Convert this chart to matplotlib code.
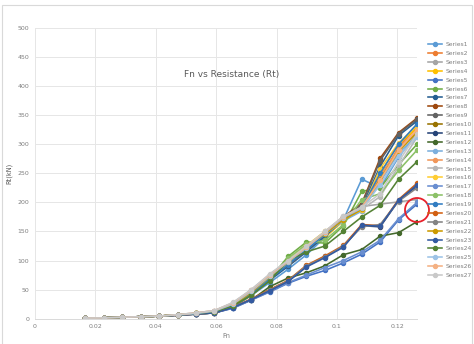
import matplotlib
matplotlib.use("Agg")
import matplotlib.pyplot as plt
from matplotlib.patches import Ellipse, Rectangle

fn = [0.0167, 0.0228, 0.0289, 0.0350, 0.0411, 0.0472, 0.0533, 0.0594, 0.0655, 0.0716,
      0.0777, 0.0838, 0.0899, 0.0960, 0.1021, 0.1082, 0.1143, 0.1204, 0.1265]

series_names = [f"Series{i}" for i in range(1, 28)]

s1 = [1, 1.5, 2.5, 3.5, 4.5, 6.5, 8.5, 11, 22, 40, 62, 85, 110, 140, 170, 240, 225, 278, 318]
s2 = [1, 1.5, 2.5, 3.5, 4.5, 6.5, 9, 12, 24, 46, 70, 95, 118, 145, 172, 190, 240, 295, 330]
s3 = [1, 1.5, 2.5, 3.5, 4.5, 6.5, 9, 12, 26, 48, 75, 96, 120, 148, 175, 193, 197, 201, 205]
s4 = [1, 1.5, 2.5, 3.5, 4.5, 6.5, 9, 12, 25, 47, 72, 100, 128, 140, 168, 188, 250, 300, 328]
s5 = [1, 1.5, 2.5, 3.5, 4.5, 6.0, 8, 10, 18, 32, 46, 61, 73, 83, 96, 111, 132, 170, 197]
s6 = [1, 1.5, 2.5, 3.5, 4.5, 6.5, 9, 12, 22, 42, 68, 107, 132, 130, 160, 219, 225, 265, 300]
s7 = [1, 1.5, 2.5, 3.5, 4.5, 6.5, 8.5, 11, 20, 40, 66, 90, 115, 142, 170, 192, 262, 315, 340]
s8 = [1, 1.5, 2.5, 3.5, 4.5, 6.5, 8.5, 11, 22, 45, 75, 92, 118, 148, 175, 198, 276, 320, 345]
s9 = [1, 1.5, 2.5, 3.5, 4.5, 6.5, 8.5, 11, 21, 44, 73, 92, 117, 146, 174, 196, 272, 318, 343]
s10 = [1, 1.5, 2.5, 3.5, 4.5, 6.5, 9, 12, 23, 45, 70, 96, 124, 145, 172, 186, 245, 290, 322]
s11 = [1, 1.5, 2.5, 3.5, 4.5, 6.0, 8, 10, 19, 33, 50, 64, 90, 107, 124, 160, 158, 203, 228]
s12 = [1, 1.5, 2.5, 3.5, 4.5, 6.0, 8, 10, 20, 32, 55, 70, 79, 91, 110, 119, 142, 148, 167]
s13 = [1, 1.5, 2.5, 3.5, 4.5, 6.5, 9, 12, 24, 45, 70, 95, 120, 145, 168, 185, 235, 285, 315]
s14 = [1, 1.5, 2.5, 3.5, 4.5, 6.5, 9, 13, 26, 48, 74, 98, 122, 148, 173, 190, 245, 292, 325]
s15 = [1, 1.5, 2.5, 3.5, 4.5, 7.0, 10, 14, 27, 50, 76, 100, 124, 150, 176, 188, 210, 262, 312]
s16 = [1, 1.5, 2.5, 3.5, 4.5, 6.5, 9, 12, 25, 48, 73, 99, 126, 150, 172, 187, 258, 302, 332]
s17 = [1, 1.5, 2.5, 3.5, 4.5, 6.0, 8, 10, 18, 32, 47, 62, 75, 88, 100, 115, 135, 172, 200]
s18 = [1, 1.5, 2.5, 3.5, 4.5, 6.5, 9, 12, 22, 40, 66, 104, 128, 135, 162, 205, 215, 255, 290]
s19 = [1, 1.5, 2.5, 3.5, 4.5, 6.5, 8.5, 11, 21, 42, 68, 93, 118, 146, 172, 190, 250, 300, 335]
s20 = [1, 1.5, 2.5, 3.5, 4.5, 6.0, 8, 10, 20, 34, 50, 66, 92, 108, 126, 162, 160, 205, 233]
s21 = [1, 1.5, 2.5, 3.5, 4.5, 6.0, 8, 10, 20, 33, 49, 65, 91, 106, 125, 158, 162, 202, 225]
s22 = [1, 1.5, 2.5, 3.5, 4.5, 6.5, 9, 12, 23, 45, 72, 97, 125, 146, 170, 188, 240, 288, 320]
s23 = [1, 1.5, 2.5, 3.5, 4.5, 6.0, 8, 10, 19, 33, 48, 64, 89, 105, 123, 161, 159, 204, 230]
s24 = [1, 1.5, 2.5, 3.5, 4.5, 6.5, 9, 12, 22, 40, 65, 100, 115, 125, 150, 175, 195, 240, 270]
s25 = [1, 1.5, 2.5, 3.5, 4.5, 6.5, 9, 13, 25, 47, 73, 98, 122, 148, 174, 190, 230, 280, 312]
s26 = [1, 1.5, 2.5, 3.5, 4.5, 7.0, 10, 14, 27, 49, 75, 99, 123, 149, 175, 192, 238, 290, 325]
s27 = [1, 1.5, 2.5, 3.5, 4.5, 7.0, 10, 14, 28, 50, 77, 100, 125, 150, 176, 192, 215, 270, 318]

all_series = [s1, s2, s3, s4, s5, s6, s7, s8, s9, s10, s11, s12, s13, s14, s15, s16,
              s17, s18, s19, s20, s21, s22, s23, s24, s25, s26, s27]

colors = ["#5B9BD5", "#ED7D31", "#A5A5A5", "#FFC000", "#4472C4", "#70AD47",
          "#255E91", "#9E480E", "#636363", "#997300", "#264478", "#43682B",
          "#7CAFDD", "#F1975A", "#B7B7B7", "#FFCD33", "#698ED0", "#8CC168",
          "#327DC2", "#D26012", "#848484", "#CC9A00", "#335AA1", "#548235",
          "#9DC3E6", "#F4B183", "#C9C9C9"]

W, H = 474, 344
fig = plt.figure(figsize=(W / 100, H / 100), dpi=100)
fig.patch.set_facecolor("white")

ax = fig.add_axes([35 / W, 1 - 318.7 / H, (417 - 35) / W, (318.7 - 28) / H])
for name, ys, c in zip(series_names, all_series, colors):
    ax.plot(fn, ys, color=c, lw=1.15, marker="o", ms=2.9, mec=c, mfc=c, label=name)

ax.set_xlim(0, 0.1265)
ax.set_ylim(0, 500)
ax.set_xticks([0, 0.02, 0.04, 0.06, 0.08, 0.1, 0.12])
ax.set_xticklabels(["0", "0.02", "0.04", "0.06", "0.08", "0.1", "0.12"])
ax.set_yticks(range(0, 501, 50))
ax.grid(True, color="#E6E6E6", lw=0.7)
ax.set_axisbelow(True)
for s in ["top", "right", "left"]:
    ax.spines[s].set_visible(False)
ax.spines["bottom"].set_color("#D9D9D9")
ax.spines["bottom"].set_linewidth(0.7)
ax.tick_params(length=0, labelsize=4.5, colors="#7F7F7F", pad=4)

ax.set_xlabel("Fn", fontsize=4.8, color="#7F7F7F", labelpad=3)
ax.set_ylabel("Rt(kN)", fontsize=4.8, color="#595959", labelpad=4)

fig.text(232 / W, 1 - 74 / H, "Fn vs Resistance (Rt)", ha="center", va="center",
         fontsize=6.5, color="#595959")

fig.legend(loc="upper left", bbox_to_anchor=(428 / W, 1 - 42 / H), frameon=False,
           fontsize=4.3, labelspacing=0.62, handlelength=2.4, handletextpad=0.5,
           borderpad=0, borderaxespad=0, labelcolor="#7F7F7F")

fig.add_artist(Ellipse((417 / W, 1 - 210 / H), 24 / W, 24 / H, transform=fig.transFigure,
                       fill=False, edgecolor="#E8202A", lw=1.3))
fig.add_artist(Rectangle((2 / W, -0.05), 470 / W, 1.05 - 5 / H, transform=fig.transFigure,
                         fill=False, edgecolor="#D9D9D9", lw=0.8))

fig.savefig("out.png", dpi=100)
